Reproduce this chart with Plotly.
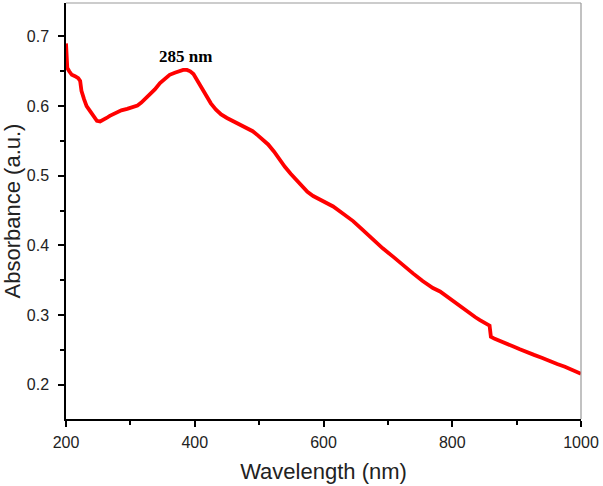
import plotly.graph_objects as go

wavelength = [200, 200.5, 201, 202, 205, 209, 214, 219, 222, 224, 228, 232, 238, 243, 248, 253, 258, 263, 268, 277, 286,
              295, 305, 311, 317, 323, 330, 338, 346, 353, 361, 369, 377, 382, 388, 393, 398, 403, 410, 418, 425, 433,
              441, 450, 460, 470, 481, 490, 498, 506, 514, 523, 532, 540, 549, 558, 566, 575, 584, 595, 605, 615,
              630, 646, 660, 677, 692, 708, 723, 739, 754, 770, 781, 794, 803, 812, 820, 829, 836, 843, 850, 855, 858,
              858.5, 859, 859.5, 860, 866, 875, 884, 895, 905, 915, 927, 939, 951, 963, 975, 987, 998, 1000]
absorbance = [0.690, 0.680, 0.668, 0.655, 0.650, 0.645, 0.643, 0.640, 0.636, 0.622, 0.610, 0.600, 0.592, 0.585, 0.579,
              0.578, 0.580, 0.583, 0.586, 0.590, 0.594, 0.596, 0.599, 0.601, 0.605, 0.610, 0.616, 0.624, 0.633,
              0.639, 0.645, 0.648, 0.651, 0.652, 0.652, 0.650, 0.646, 0.638, 0.627, 0.614, 0.604, 0.595, 0.588,
              0.583, 0.578, 0.574, 0.569, 0.564, 0.558, 0.552, 0.545, 0.535, 0.523, 0.513, 0.503, 0.494, 0.485,
              0.477, 0.471, 0.466, 0.461, 0.456, 0.446, 0.435, 0.423, 0.408, 0.396, 0.384, 0.372, 0.360, 0.349,
              0.339, 0.334, 0.325, 0.319, 0.313, 0.308, 0.301, 0.297, 0.293, 0.289, 0.287, 0.285,
              0.281, 0.277, 0.273, 0.269, 0.266, 0.263, 0.259, 0.255, 0.251, 0.247, 0.243, 0.239, 0.234, 0.230,
              0.226, 0.221, 0.217, 0.216]

peak_label = "285 nm"
peak_pos = (385, 0.671)

fig = go.Figure()
fig.add_trace(go.Scatter(x=wavelength, y=absorbance, mode="lines",
                         line=dict(color="#ff0000", width=3.8), showlegend=False))

fig.add_annotation(x=peak_pos[0], y=peak_pos[1], text="<b>" + peak_label + "</b>", showarrow=False,
                   font=dict(family="Liberation Serif, Times New Roman, serif", size=17, color="black"))

sans = "Liberation Sans, Arial, sans-serif"
axis_font = dict(family=sans, size=16, color="#222")
title_font = dict(family=sans, size=22, color="#222")
fig.update_layout(
    width=603, height=486,
    margin=dict(l=66, r=22, t=3, b=67),
    paper_bgcolor="white", plot_bgcolor="white",
    xaxis=dict(range=[200, 1000], tick0=200, dtick=200, ticks="outside", ticklen=6, tickwidth=1.5,
               tickcolor="black", showline=True, linecolor="black", linewidth=1.5, showgrid=False,
               zeroline=False, tickfont=axis_font, ticklabelstandoff=2,
               minor=dict(dtick=100, tick0=200, ticks="outside", ticklen=4, tickcolor="black", showgrid=False),
               title=dict(text="Wavelength (nm)", font=title_font, standoff=14)),
    yaxis=dict(range=[0.151, 0.748], tick0=0.2, dtick=0.1, ticks="outside", ticklen=6, tickwidth=1.5,
               tickcolor="black", showline=True, linecolor="black", linewidth=1.5, showgrid=False,
               zeroline=False, tickfont=axis_font, ticklabelstandoff=6,
               minor=dict(dtick=0.05, tick0=0.15, ticks="outside", ticklen=4, tickcolor="black", showgrid=False),
               title=dict(text="Absorbance (a.u.)", font=title_font, standoff=4)),
    shapes=[
        dict(type="line", xref="paper", yref="paper", x0=0, x1=1, y0=1, y1=1, line=dict(color="#999", width=1.2)),
        dict(type="line", xref="paper", yref="paper", x0=1, x1=1, y0=0, y1=1, line=dict(color="#999", width=1.2)),
    ],
)

fig.write_html("out.html", config={"displayModeBar": False},
               post_script="document.body.style.margin='0';")
